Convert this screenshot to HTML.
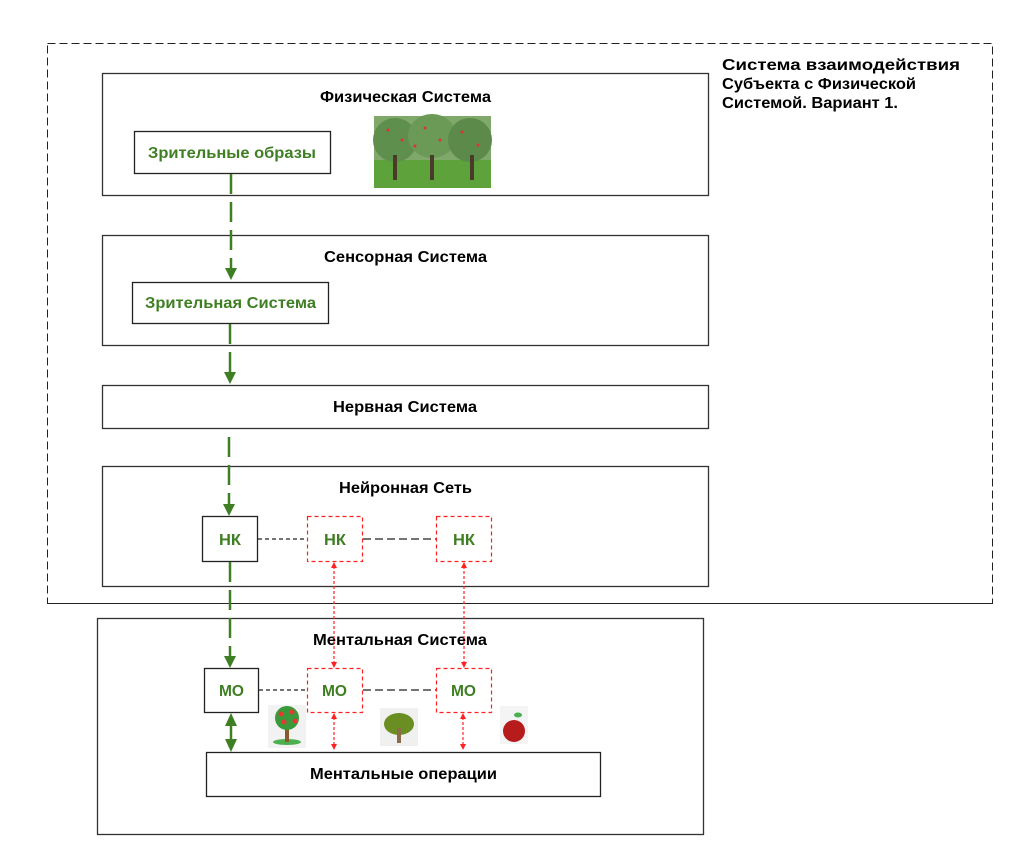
<!DOCTYPE html>
<html><head><meta charset="utf-8"><style>
html,body{margin:0;padding:0;background:#fff;width:1033px;height:852px;overflow:hidden}
text{font-family:"Liberation Sans",Arial,sans-serif;font-weight:bold}
</style></head><body>
<svg width="1033" height="852" viewBox="0 0 1033 852" xmlns="http://www.w3.org/2000/svg">
<rect x="47.5" y="43.5" width="945" height="560" fill="none" stroke="#222" stroke-width="1" stroke-dasharray="8,4"/>
<text x="722" y="70" font-size="16" textLength="238" lengthAdjust="spacingAndGlyphs">Система взаимодействия</text>
<text x="722" y="89" font-size="16" textLength="194" lengthAdjust="spacingAndGlyphs">Субъекта с Физической</text>
<text x="722" y="108" font-size="16" textLength="176" lengthAdjust="spacingAndGlyphs">Системой. Вариант 1.</text>

<g fill="#fff" stroke="#333" stroke-width="1.3">
<rect x="102.5" y="73.5" width="606" height="122"/>
<rect x="102.5" y="235.5" width="606" height="110"/>
<rect x="102.5" y="385.5" width="606" height="43"/>
<rect x="102.5" y="466.5" width="606" height="120"/>
<rect x="97.5" y="618.5" width="606" height="216"/>
</g>
<line x1="47.5" y1="603.5" x2="992.5" y2="603.5" stroke="#222" stroke-dasharray="8,4"/>

<g font-size="15.5" fill="#000">
<text x="320" y="102" textLength="171" lengthAdjust="spacingAndGlyphs">Физическая Система</text>
<text x="324" y="262" textLength="163" lengthAdjust="spacingAndGlyphs">Сенсорная Система</text>
<text x="333" y="412" textLength="144" lengthAdjust="spacingAndGlyphs">Нервная Система</text>
<text x="339" y="493" textLength="133" lengthAdjust="spacingAndGlyphs">Нейронная Сеть</text>
<text x="313" y="645" textLength="174" lengthAdjust="spacingAndGlyphs">Ментальная Система</text>
</g>

<g>
<rect x="374" y="116" width="117" height="72" fill="#7fa86a"/>
<rect x="374" y="160" width="117" height="28" fill="#5da23a"/>
<ellipse cx="395" cy="140" rx="22" ry="22" fill="#5f8f4d"/>
<ellipse cx="432" cy="136" rx="24" ry="22" fill="#6b9a57"/>
<ellipse cx="470" cy="140" rx="22" ry="22" fill="#5c8a4a"/>
<rect x="393" y="155" width="4" height="25" fill="#4a3a2a"/>
<rect x="430" y="155" width="4" height="25" fill="#4a3a2a"/>
<rect x="470" y="155" width="4" height="25" fill="#4a3a2a"/>
<g fill="#d33"><circle cx="388" cy="130" r="1.5"/><circle cx="402" cy="140" r="1.5"/><circle cx="425" cy="128" r="1.5"/><circle cx="440" cy="140" r="1.5"/><circle cx="462" cy="132" r="1.5"/><circle cx="478" cy="145" r="1.5"/><circle cx="415" cy="146" r="1.5"/></g>
</g>

<g fill="#fff" stroke="#222" stroke-width="1.3">
<rect x="134.5" y="131.5" width="196" height="42"/>
<rect x="132.5" y="282.5" width="196" height="41"/>
<rect x="202.5" y="516.5" width="55" height="45"/>
<rect x="204.5" y="668.5" width="54" height="44"/>
<rect x="206.5" y="752.5" width="394" height="44"/>
</g>
<g fill="#fff" stroke="#f22" stroke-width="1.2" stroke-dasharray="4,3">
<rect x="307.5" y="516.5" width="55" height="45"/>
<rect x="436.5" y="516.5" width="55" height="45"/>
<rect x="307.5" y="668.5" width="55" height="44"/>
<rect x="436.5" y="668.5" width="55" height="44"/>
</g>
<g font-size="15.5" fill="#3f7f23">
<text x="148" y="158" textLength="168" lengthAdjust="spacingAndGlyphs">Зрительные образы</text>
<text x="145" y="308" textLength="171" lengthAdjust="spacingAndGlyphs">Зрительная Система</text>
<text x="219" y="545" textLength="22" lengthAdjust="spacingAndGlyphs">НК</text>
<text x="324" y="545" textLength="22" lengthAdjust="spacingAndGlyphs">НК</text>
<text x="453" y="545" font-weight="normal" textLength="22" lengthAdjust="spacingAndGlyphs">НК</text>
<text x="219" y="696" textLength="25" lengthAdjust="spacingAndGlyphs">МО</text>
<text x="322" y="696" textLength="25" lengthAdjust="spacingAndGlyphs">МО</text>
<text x="451" y="696" font-weight="normal" textLength="25" lengthAdjust="spacingAndGlyphs">МО</text>
</g>
<text x="310" y="779" font-size="15.5" textLength="187" lengthAdjust="spacingAndGlyphs">Ментальные операции</text>

<g stroke="#222" stroke-width="1.2">
<line x1="258" y1="539" x2="307" y2="539" stroke-dasharray="4,3"/>
<line x1="363" y1="539" x2="436" y2="539" stroke-dasharray="8,4"/>
<line x1="259" y1="690" x2="307" y2="690" stroke-dasharray="4,3"/>
<line x1="363" y1="690" x2="436" y2="690" stroke-dasharray="8,4"/>
</g>

<g stroke="#3f7f23" stroke-width="2.5" fill="none" stroke-dasharray="20,8">
<line x1="231" y1="174" x2="231" y2="268"/>
<line x1="230" y1="324" x2="230" y2="372"/>
<line x1="229" y1="437" x2="229" y2="504"/>
<line x1="230" y1="562" x2="230" y2="656"/>
<line x1="231" y1="724" x2="231" y2="740" stroke-dasharray="none"/>
</g>
<g fill="#3f7f23">
<polygon points="225,268 237,268 231,280"/>
<polygon points="224,372 236,372 230,384"/>
<polygon points="223,504 235,504 229,516"/>
<polygon points="224,656 236,656 230,668"/>
<polygon points="225,726 237,726 231,713"/>
<polygon points="225,739 237,739 231,752"/>
</g>

<g stroke="#f22" stroke-width="1.2" stroke-dasharray="3,2">
<line x1="334" y1="566" x2="334" y2="664"/>
<line x1="464" y1="566" x2="464" y2="664"/>
<line x1="334" y1="717" x2="334" y2="746"/>
<line x1="463" y1="717" x2="463" y2="746"/>
</g>
<g fill="#f22">
<polygon points="331,568 337,568 334,562"/><polygon points="331,662 337,662 334,668"/>
<polygon points="461,568 467,568 464,562"/><polygon points="461,662 467,662 464,668"/>
<polygon points="331,719 337,719 334,713"/><polygon points="331,744 337,744 334,750"/>
<polygon points="460,719 466,719 463,713"/><polygon points="460,744 466,744 463,750"/>
</g>

<rect x="268" y="705" width="38" height="43" fill="#f2f2f2"/>
<ellipse cx="287" cy="742" rx="14" ry="3" fill="#4caf50"/>
<rect x="285" y="722" width="4" height="20" fill="#8b5a2b"/>
<circle cx="287" cy="718" r="12" fill="#3a9a3a"/>
<g fill="#e53935"><circle cx="281" cy="714" r="2.5"/><circle cx="292" cy="712" r="2.5"/><circle cx="284" cy="722" r="2.5"/><circle cx="295" cy="721" r="2.5"/></g>
<rect x="380" y="708" width="38" height="38" fill="#f0f0f0"/>
<ellipse cx="399" cy="724" rx="15" ry="11" fill="#6b8e23"/>
<rect x="397" y="728" width="4" height="15" fill="#8b6b4a"/>
<rect x="500" y="706" width="28" height="38" fill="#f4f4f4"/>
<circle cx="514" cy="731" r="11" fill="#b71c1c"/>
<ellipse cx="518" cy="715" rx="4" ry="2.5" fill="#4caf50"/>
</svg>
</body></html>
